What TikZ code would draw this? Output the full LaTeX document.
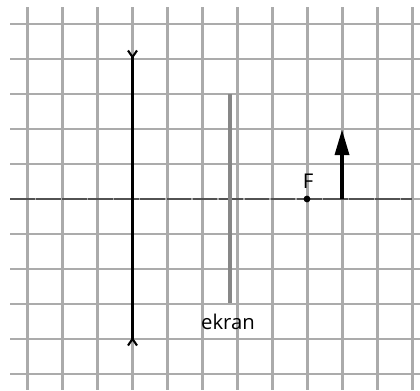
\documentclass[tikz,border=0pt]{standalone}
\usepackage{fontspec}
\setmainfont{Open Sans}
\usetikzlibrary{calc}
\begin{document}
\begin{tikzpicture}[x=0.0285714cm,y=-0.0285714cm,
  gridline/.style={draw=black!33,line width=1.7pt},
  axisline/.style={draw=black!68,line width=1.6pt,dash pattern=on 20pt off 1.2pt},
  lensline/.style={draw=black,line width=2.2pt},
  barb/.style={draw=black,line width=1.7pt,line join=miter},
  screenline/.style={draw=black!47,line width=4pt},
  objarrow/.style={draw=black,line width=4pt},
  lbl/.style={font=\fontsize{16.5}{19}\selectfont,anchor=base,inner sep=0pt},
  focus/.style={circle,fill=black,inner sep=0pt,minimum size=5.5pt}]
\useasboundingbox[fill=white] (0,0) rectangle (420,390);
% grid
\foreach \k in {0,...,11} \draw[gridline] ({27.5+35*\k},7) -- ({27.5+35*\k},390);
\foreach \k in {0,...,10} \draw[gridline] (10,{24+35*\k}) -- (420,{24+35*\k});
% optical axis
\coordinate (axL) at (10,199);
\coordinate (axR) at (412,199);
\draw[axisline] (axL) -- (axR);
% diverging lens
\coordinate (lensT) at (132.5,57);
\coordinate (lensB) at (132.5,339);
\draw[lensline] (lensT) -- (lensB);
\draw[barb] ($(lensT)+(-4.5,-6.5)$) -- (lensT) -- ($(lensT)+(4.5,-6.5)$);
\draw[barb] ($(lensB)+(-4.5,6.5)$) -- (lensB) -- ($(lensB)+(4.5,6.5)$);
% screen
\coordinate (scrT) at (230,94);
\coordinate (scrB) at (230,303);
\draw[screenline] (scrT) -- (scrB);
\node[lbl] (ekran) at (228,329) {ekran};
% focus
\node[focus] (F) at (307,199) {};
\node[lbl] (Flbl) at (308,188) {F};
% object
\coordinate (objB) at (342,199);
\coordinate (objH) at (342,155);
\coordinate (objT) at (342,130);
\draw[objarrow] (objB) -- (objH);
\fill[black] ($(objH)+(-7.5,0)$) -- (objT) -- ($(objH)+(7.5,0)$) -- cycle;
\end{tikzpicture}
\end{document}
